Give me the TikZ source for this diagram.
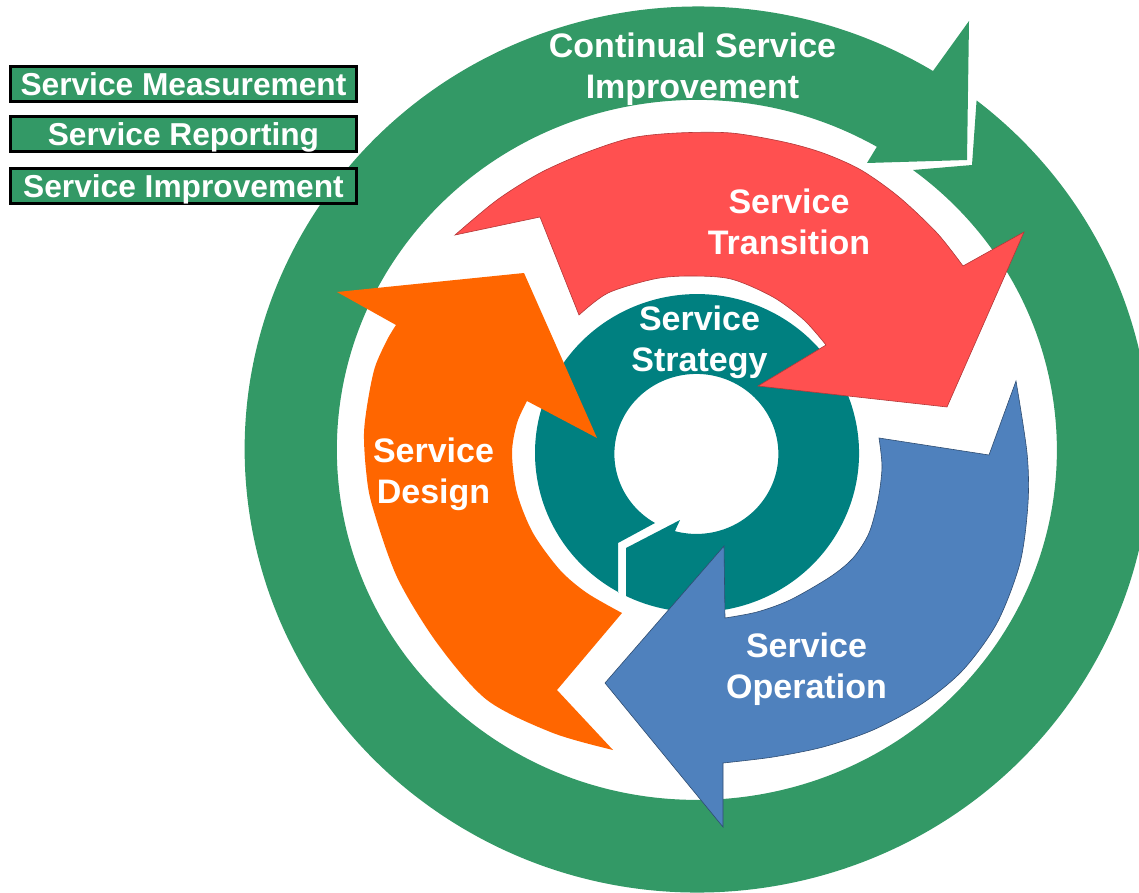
\documentclass[tikz,border=0pt]{standalone}
\usepackage{fontspec}
\setmainfont{Liberation Sans}
\definecolor{csigreen}{RGB}{51,153,102}
\definecolor{strategyteal}{RGB}{0,128,128}
\definecolor{transitionred}{RGB}{255,80,80}
\definecolor{operationblue}{RGB}{79,129,189}
\definecolor{designorange}{RGB}{255,102,0}
\begin{document}
\begin{tikzpicture}[x=1pt, y=-1pt,
    stagelabel/.style={text=white, font=\bfseries\fontsize{34}{41}\selectfont, align=center, inner sep=0pt},
    boxlabel/.style={draw=black, line width=3pt, fill=csigreen, text=white,
        font=\bfseries\fontsize{31.7}{38}\selectfont, minimum width=346pt, minimum height=35pt,
        inner sep=0pt, text height=22.8pt, text depth=0pt}]
    \useasboundingbox (0,0) rectangle (1139,893);
    \clip (0,0) rectangle (1139,893);
    % continual service improvement ring
    \fill[csigreen] (933,71) arc[start angle=58.7, end angle=412, x radius=453pt, y radius=443pt]
        -- (972,165) -- (913,170)
        arc[start angle=413.1, end angle=60, x radius=360pt, y radius=350pt]
        -- (867,163) -- (967,160) -- (969,21) -- cycle;
    % strategy ring
    \fill[strategyteal] (618,593) -- (618,543) -- (655,523)
        arc[start angle=239.7, end angle=-105.2, x radius=82pt, y radius=80pt]
        -- (680,520) -- (626,548) -- (626,596)
        arc[start angle=-116, end angle=241, x radius=162pt, y radius=159pt] -- cycle;
    % transition
    \filldraw[fill=transitionred, draw=transitionred!70!black, line width=0.6pt]
        (455,235) -- (540,217) -- (579,315)
        -- plot[smooth, tension=0.5] coordinates {(579,315) (608,293) (654,279) (689,276) (731,279) (773,297) (804,320) (826,345)}
        -- (758,386) -- (947,407) -- (1024,232) -- (963,266)
        -- plot[smooth, tension=0.5] coordinates {(963,266) (937,233) (899,197) (861,170) (823,153) (784,142) (731,133) (677,133) (631,138) (585,153) (540,173) (497,200) (455,235)}
        -- cycle;
    % operation
    \filldraw[fill=operationblue, draw=operationblue!60!black, line width=0.6pt]
        (1016,381) -- (989,455) -- (879,438)
        -- plot[smooth, tension=0.5] coordinates {(879,438) (882,467) (878,500) (869,533) (853,558) (830,577) (790,600) (757,612) (725,618)}
        -- (724,546) -- (605,683) -- (723,827) -- (723,763)
        -- plot[smooth, tension=0.5] coordinates {(723,763) (773,757) (823,747) (873,730) (923,703) (963,670) (997,623) (1020,563) (1028,503) (1027,453) (1016,381)}
        -- cycle;
    % design
    \fill[designorange]
        (613,750) -- (557,690) -- (622,613)
        -- plot[smooth, tension=0.5] coordinates {(622,613) (587,593) (560,570) (533,533) (517,493) (512,453) (517,423) (527,401)}
        -- (597,438) -- (524,273) -- (337,292) -- (396,325)
        -- plot[smooth, tension=0.5] coordinates {(396,325) (387,340) (375,367) (368,400) (364,433) (366,470) (372,505) (397,577) (437,643) (487,700) (553,733) (613,750)}
        -- cycle;
    % labels
    \node[stagelabel] (csi) at (692.5,69.5) {Continual Service\\Improvement};
    \node[stagelabel] (transition) at (789,222) {Service\\Transition};
    \node[stagelabel] (strategy) at (699.5,342.5) {Service\\Strategy};
    \node[stagelabel] (design) at (433.5,474.5) {Service\\Design};
    \node[stagelabel] (operation) at (806.5,669.5) {Service\\Operation};
    \foreach \i/\y/\txt in {1/84/Service Measurement, 2/134/Service Reporting, 3/186.5/Service Improvement}
        \node[boxlabel] (process\i) at (183.5,\y) {\txt};
\end{tikzpicture}
\end{document}
